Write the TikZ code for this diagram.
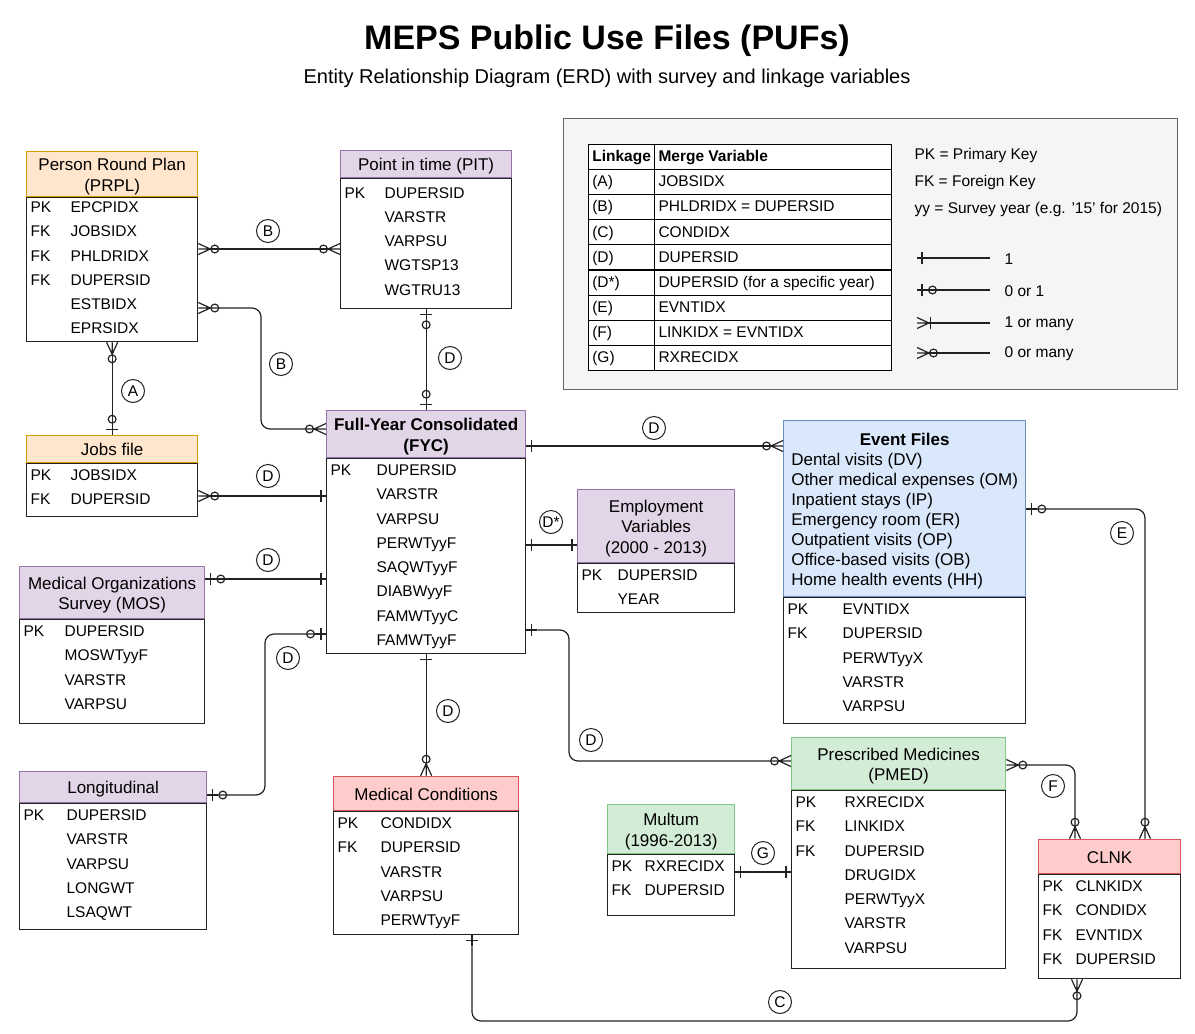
\documentclass[tikz,border=0pt]{standalone}
\usepackage{fontspec}
\setmainfont{Liberation Sans}
\usepackage{xcolor}
\usepackage{array}
\usepackage{tikz}
\usetikzlibrary{arrows.meta}

\definecolor{orangefill}{HTML}{FFE6CC}
\definecolor{orangeline}{HTML}{D79B00}
\definecolor{purplefill}{HTML}{E1D5E7}
\definecolor{purpleline}{HTML}{9673A6}
\definecolor{bluefill}{HTML}{DAE8FC}
\definecolor{blueline}{HTML}{6C8EBF}
\definecolor{redfill}{HTML}{FFCCCC}
\definecolor{redline}{HTML}{D9545B}
\definecolor{greenfill}{HTML}{D3ECD6}
\definecolor{greenline}{HTML}{82C785}
\definecolor{panelfill}{HTML}{F5F5F5}
\definecolor{panelline}{HTML}{666666}
\definecolor{inkgray}{HTML}{222222}

\newcommand{\bodyfont}{\fontsize{15.5}{24.25}\selectfont}
\newcommand{\hdrfont}{\fontsize{17}{20.5}\selectfont}
\newcommand{\legfont}{\fontsize{15.5}{23.95}\selectfont}
\newcommand{\fieldtab}[2]{\begin{tabular}{@{}p{#1pt}@{}l@{}}#2\end{tabular}}
\newcommand{\hdrbox}[2][c]{\raisebox{-3pt}[\height][\depth]{\begin{tabular}{@{}#1@{}}#2\end{tabular}}}

% crow's foot and single bar for the relation ends
\pgfdeclarearrow{
  name = ErCrow,
  parameters = {\the\pgfarrowlength,\the\pgfarrowwidth},
  setup code = {
    \pgfarrowssettipend{0pt}
    \pgfarrowssetbackend{-\pgfarrowlength}
    \pgfarrowssetlineend{-\pgfarrowlength}
    \pgfarrowshullpoint{-\pgfarrowlength}{0pt}
    \pgfarrowsupperhullpoint{0pt}{.5\pgfarrowwidth}
    \pgfarrowssavethe\pgfarrowlength
    \pgfarrowssavethe\pgfarrowwidth
  },
  drawing code = {
    \pgfpathmoveto{\pgfqpoint{0pt}{.5\pgfarrowwidth}}
    \pgfpathlineto{\pgfqpoint{-\pgfarrowlength}{0pt}}
    \pgfpathlineto{\pgfqpoint{0pt}{-.5\pgfarrowwidth}}
    \pgfpathmoveto{\pgfqpoint{-\pgfarrowlength}{0pt}}
    \pgfpathlineto{\pgfqpoint{0pt}{0pt}}
    \pgfusepathqstroke
  },
  defaults = {length = 12pt, width = 11pt}
}
\pgfdeclarearrow{
  name = ErOne,
  parameters = {\the\pgfarrowlength,\the\pgfarrowwidth},
  setup code = {
    \pgfarrowssettipend{0pt}
    \pgfarrowssetbackend{-\pgfarrowlength}
    \pgfarrowssetlineend{-\pgfarrowlength}
    \pgfarrowshullpoint{-\pgfarrowlength}{0pt}
    \pgfarrowsupperhullpoint{0pt}{.5\pgfarrowwidth}
    \pgfarrowssavethe\pgfarrowlength
    \pgfarrowssavethe\pgfarrowwidth
  },
  drawing code = {
    \pgfpathmoveto{\pgfqpoint{-\pgfarrowlength}{0pt}}
    \pgfpathlineto{\pgfqpoint{0pt}{0pt}}
    \pgfpathmoveto{\pgfqpoint{-.45\pgfarrowlength}{.5\pgfarrowwidth}}
    \pgfpathlineto{\pgfqpoint{-.45\pgfarrowlength}{-.5\pgfarrowwidth}}
    \pgfusepathqstroke
  },
  defaults = {length = 11pt, width = 12pt}
}

\tikzset{
  EOne/.tip = {ErOne},
  EZeroOne/.tip = {Circle[open,length=9pt,width=9pt] ErOne},
  EZeroMany/.tip = {Circle[open,length=9pt,width=9pt] ErCrow},
  EOneMany/.tip = {ErOne[length=4pt] ErCrow},
}

\begin{document}
\begin{tikzpicture}[x=1pt, y=-1pt, line width=1.2pt, draw=inkgray,
  tblbody/.style={draw=inkgray, line width=1.3pt, anchor=north west, inner sep=0pt},
  tblhead/.style={draw, line width=1.3pt, anchor=south west, inner sep=0pt, font=\hdrfont},
  tblrows/.style={anchor=north west, inner sep=0pt, font=\bodyfont},
  hdrorange/.style={fill=orangefill, draw=orangeline},
  hdrpurple/.style={fill=purplefill, draw=purpleline},
  hdrblue/.style={fill=bluefill, draw=blueline},
  hdrred/.style={fill=redfill, draw=redline},
  hdrgreen/.style={fill=greenfill, draw=greenline},
  link/.style={circle, draw=inkgray, line width=1pt, minimum size=23pt, inner sep=0pt, font=\bodyfont},
  conn/.style={draw=inkgray, line width=1.2pt, rounded corners=9pt},
  note/.style={anchor=west, inner sep=0pt, font=\bodyfont}]
\useasboundingbox (0,0) rectangle (1195,1034);

% title
\node[font=\fontsize{34}{40}\selectfont\bfseries] (title) at (607,41) {MEPS Public Use Files (PUFs)};
\node[font=\fontsize{20}{24}\selectfont] (subtitle) at (607,78) {Entity Relationship Diagram (ERD) with survey and linkage variables};

% legend
\node[draw=panelline, fill=panelfill, line width=1.2pt, minimum width=614, minimum height=271, anchor=north west, inner sep=0pt] (legend) at (563,118) {};
\node[anchor=north west, inner sep=0pt, fill=white, font=\legfont] (ltab) at (587,143) {%
  \setlength\arrayrulewidth{1.2pt}\setlength\tabcolsep{3.5pt}%
  \begin{tabular}{|p{58pt}|p{229pt}|}\hline
  \textbf{Linkage} & \textbf{Merge Variable}\\\hline
  (A) & JOBSIDX\\\hline
  (B) & PHLDRIDX = DUPERSID\\\hline
  (C) & CONDIDX\\\hline
  (D) & DUPERSID\\\hline
  (D*) & DUPERSID (for a specific year)\\\hline
  (E) & EVNTIDX\\\hline
  (F) & LINKIDX = EVNTIDX\\\hline
  (G) & RXRECIDX\\\hline
  \end{tabular}};
\node[note] (pkkey) at (914,155) {PK = Primary Key};
\node[note] (fkkey) at (914,182) {FK = Foreign Key};
\node[note] (yykey) at (914,209) {yy = Survey year (e.g. '15' for 2015)};
\coordinate (one a) at (990,258);
\coordinate (one b) at (917,258);
\coordinate (zo a) at (990,290);
\coordinate (zo b) at (917,290);
\coordinate (om a) at (990,323);
\coordinate (om b) at (917,323);
\coordinate (zm a) at (990,353);
\coordinate (zm b) at (917,353);
\draw[conn, -EOne] (one a) -- (one b);
\draw[conn, -EZeroOne] (zo a) -- (zo b);
\draw[conn, -EOneMany] (om a) -- (om b);
\draw[conn, -EZeroMany] (zm a) -- (zm b);
\node[note] (onetxt) at (1004,259) {1};
\node[note] (zotxt) at (1004,291) {0 or 1};
\node[note] (omtxt) at (1004,324) {1 or many};
\node[note] (zmtxt) at (1004,354) {0 or many};

% Person Round Plan
\node[tblbody, minimum width=171, minimum height=144] (prpl) at (26,197) {};
\node[tblhead, hdrorange, minimum width=171, minimum height=45] (prplh) at (prpl.north west) {\hdrbox{Person Round Plan\\(PRPL)}};
\node[tblrows] (prplf) at ([xshift=4pt,yshift=2pt]prpl.north west) {\fieldtab{40}{PK & EPCPIDX\\ FK & JOBSIDX\\ FK & PHLDRIDX\\ FK & DUPERSID\\ & ESTBIDX\\ & EPRSIDX}};

% Point in time
\node[tblbody, minimum width=171, minimum height=130] (pit) at (340,178) {};
\node[tblhead, hdrpurple, minimum width=171, minimum height=27] (pith) at (pit.north west) {\hdrbox{Point in time (PIT)}};
\node[tblrows] (pitf) at ([xshift=4pt,yshift=-2.5pt]pit.north west) {\fieldtab{40}{PK & DUPERSID\\ & VARSTR\\ & VARPSU\\ & WGTSP13\\ & WGTRU13}};

% Jobs file
\node[tblbody, minimum width=171, minimum height=53] (job) at (26,463) {};
\node[tblhead, hdrorange, minimum width=171, minimum height=27] (jobh) at (job.north west) {\hdrbox{Jobs file}};
\node[tblrows] (jobf) at ([xshift=4pt]job.north west) {\fieldtab{40}{PK & JOBSIDX\\ FK & DUPERSID}};

% Full-Year Consolidated
\node[tblbody, minimum width=199, minimum height=195] (fyc) at (326,458) {};
\node[tblhead, hdrpurple, minimum width=199, minimum height=47, font=\hdrfont\bfseries] (fych) at (fyc.north west) {\hdrbox{Full-Year Consolidated\\(FYC)}};
\node[tblrows] (fycf) at ([xshift=4pt]fyc.north west) {\fieldtab{46}{PK & DUPERSID\\ & VARSTR\\ & VARPSU\\ & PERWTyyF\\ & SAQWTyyF\\ & DIABWyyF\\ & FAMWTyyC\\ & FAMWTyyF}};

% Medical Organizations Survey
\node[tblbody, minimum width=185, minimum height=104] (mos) at (19,619) {};
\node[tblhead, hdrpurple, minimum width=185, minimum height=52] (mosh) at (mos.north west) {\hdrbox{Medical Organizations\\Survey (MOS)}};
\node[tblrows] (mosf) at ([xshift=4pt]mos.north west) {\fieldtab{41}{PK & DUPERSID\\ & MOSWTyyF\\ & VARSTR\\ & VARPSU}};

% Longitudinal
\node[tblbody, minimum width=187, minimum height=126] (long) at (19,803) {};
\node[tblhead, hdrpurple, minimum width=187, minimum height=31] (longh) at (long.north west) {\hdrbox{Longitudinal}};
\node[tblrows] (longf) at ([xshift=4pt]long.north west) {\fieldtab{43}{PK & DUPERSID\\ & VARSTR\\ & VARPSU\\ & LONGWT\\ & LSAQWT}};

% Employment Variables
\node[tblbody, minimum width=157, minimum height=49] (emp) at (577,563) {};
\node[tblhead, hdrpurple, minimum width=157, minimum height=73] (emph) at (emp.north west) {\hdrbox{Employment\\Variables\\(2000 - 2013)}};
\node[tblrows] (empf) at ([xshift=4pt]emp.north west) {\fieldtab{36}{PK & DUPERSID\\ & YEAR}};

% Event Files
\node[tblbody, minimum width=242, minimum height=126] (evt) at (783,597) {};
\node[tblhead, hdrblue, minimum width=242, minimum height=176, font=\fontsize{17}{20}\selectfont] (evth) at (evt.north west) {%
  \hdrbox[l]{\multicolumn{1}{@{}c@{}}{\textbf{Event Files}}\\
  Dental visits (DV)\\ Other medical expenses (OM)\\ Inpatient stays (IP)\\ Emergency room (ER)\\
  Outpatient visits (OP)\\ Office-based visits (OB)\\ Home health events (HH)}};
\node[tblrows] (evtf) at ([xshift=4pt]evt.north west) {\fieldtab{55}{PK & EVNTIDX\\ FK & DUPERSID\\ & PERWTyyX\\ & VARSTR\\ & VARPSU}};

% Medical Conditions
\node[tblbody, minimum width=185, minimum height=123] (cond) at (333,811) {};
\node[tblhead, hdrred, minimum width=185, minimum height=34] (condh) at (cond.north west) {\hdrbox{Medical Conditions}};
\node[tblrows] (condf) at ([xshift=4pt]cond.north west) {\fieldtab{43}{PK & CONDIDX\\ FK & DUPERSID\\ & VARSTR\\ & VARPSU\\ & PERWTyyF}};

% Multum
\node[tblbody, minimum width=127, minimum height=61] (mult) at (607,854) {};
\node[tblhead, hdrgreen, minimum width=127, minimum height=49] (multh) at (mult.north west) {\hdrbox{Multum\\(1996-2013)}};
\node[tblrows] (multf) at ([xshift=4pt]mult.north west) {\fieldtab{33}{PK & RXRECIDX\\ FK & DUPERSID}};

% Prescribed Medicines
\node[tblbody, minimum width=214, minimum height=178] (pmed) at (791,790) {};
\node[tblhead, hdrgreen, minimum width=214, minimum height=52] (pmedh) at (pmed.north west) {\hdrbox{Prescribed Medicines\\(PMED)}};
\node[tblrows] (pmedf) at ([xshift=4pt]pmed.north west) {\fieldtab{49}{PK & RXRECIDX\\ FK & LINKIDX\\ FK & DUPERSID\\ & DRUGIDX\\ & PERWTyyX\\ & VARSTR\\ & VARPSU}};

% CLNK
\node[tblbody, minimum width=142, minimum height=104] (clnk) at (1038,874) {};
\node[tblhead, hdrred, minimum width=142, minimum height=34] (clnkh) at (clnk.north west) {\hdrbox{CLNK}};
\node[tblrows] (clnkf) at ([xshift=4pt]clnk.north west) {\fieldtab{33}{PK & CLNKIDX\\ FK & CONDIDX\\ FK & EVNTIDX\\ FK & DUPERSID}};

% relations
\draw[conn, EZeroMany-EZeroMany] (prpl.east |- 0,249) -- (pit.west |- 0,249);
\draw[conn, EZeroMany-EZeroMany] (prpl.east |- 0,308) -- (261,308) -- (261,429) -- (fych.west |- 0,429);
\draw[conn, EZeroMany-EZeroOne] (prpl.south) -- (jobh.north);
\draw[conn, EZeroMany-EOne] (job.east |- 0,496) -- (fyc.west |- 0,496);
\draw[conn, EZeroOne-EZeroOne] (pit.south) -- (fych.north);
\draw[conn, EOne-EZeroMany] (fych.east |- 0,446) -- (evth.west |- 0,446);
\draw[conn, EOne-EOne] (fyc.east |- 0,545) -- (emph.west |- 0,545);
\draw[conn, EZeroOne-EOne] (mosh.east |- 0,579) -- (fyc.west |- 0,579);
\draw[conn, EZeroOne-EZeroOne] (longh.east |- 0,795) -- (265,795) -- (265,634) -- (fyc.west |- 0,634);
\draw[conn, EOne-EZeroMany] (fyc.south) -- (condh.north);
\draw[conn, EOne-EZeroMany] (fyc.east |- 0,630) -- (569,630) -- (569,761) -- (pmedh.west |- 0,761);
\draw[conn, EZeroOne-EZeroMany] (evth.east |- 0,509) -- (1145,509) -- (clnkh.north -| 1145,0);
\draw[conn, EZeroMany-EZeroMany] (pmedh.east |- 0,765) -- (1075,765) -- (clnkh.north -| 1075,0);
\draw[conn, EOne-EOne] (mult.east |- 0,872) -- (pmed.west |- 0,872);
\draw[conn, EOne-EZeroMany] (cond.south -| 472,0) -- (472,1021) -- (1077,1021) -- (clnk.south -| 1077,0);

% linkage labels
\node[link] (lbB1) at (268,231) {B};
\node[link] (lbB2) at (281,364) {B};
\node[link] (lbA) at (133,391) {A};
\node[link] (lbDjob) at (268,476) {D};
\node[link] (lbDpit) at (450,358) {D};
\node[link] (lbDevt) at (654,428) {D};
\node[link] (lbDemp) at (551,522) {D*};
\node[link] (lbDmos) at (268,560) {D};
\node[link] (lbDlong) at (288,658) {D};
\node[link] (lbDcond) at (448,711) {D};
\node[link] (lbDpmed) at (591,740) {D};
\node[link] (lbE) at (1122,533) {E};
\node[link] (lbF) at (1053,786) {F};
\node[link] (lbG) at (763,853) {G};
\node[link] (lbC) at (780,1002) {C};
\end{tikzpicture}
\end{document}
